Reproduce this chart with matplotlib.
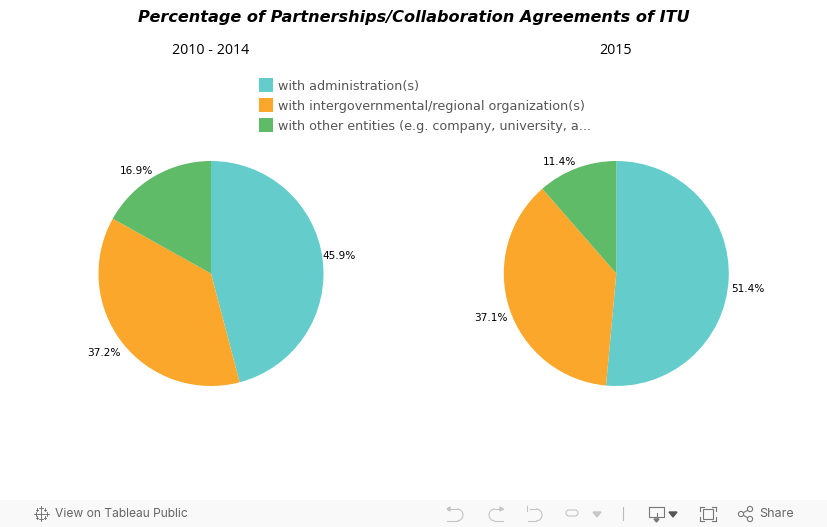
import numpy as np
import matplotlib
matplotlib.use("Agg")
import matplotlib.pyplot as plt
from matplotlib.patches import Rectangle, Arc, Circle, Polygon, FancyBboxPatch

# ------------ Data ------------
title = "Percentage of Partnerships/Collaboration Agreements of ITU"
panels = ["2010 - 2014", "2015"]
categories = ["with administration(s)",
              "with intergovernmental/regional organization(s)",
              "with other entities (e.g. company, university, a..."]
values_2010 = [45.9, 37.2, 16.9]
values_2015 = [51.4, 37.1, 11.4]
colors = ["#64cdcc", "#faa72b", "#5fbb68"]

# label shift from the pie edge, in pixels
shift_2010 = [(17, 3), (-18, -11), (-18, 5)]
shift_2015 = [(19, -10), (-18, -10), (-17, 6)]

W, H = 827, 527
R = 112.5
fig = plt.figure(figsize=(W / 100, H / 100), dpi=100, facecolor="white")

# overlay in pixel coordinates for text and the toolbar
bg = fig.add_axes([0, 0, 1, 1])
bg.set_xlim(0, W)
bg.set_ylim(H, 0)
bg.axis("off")


def draw_pie(cx, cy, vals, shifts):
    ax = fig.add_axes([(cx - R) / W, 1 - (cy + R) / H, 2 * R / W, 2 * R / H])
    wedges, _ = ax.pie(vals, colors=colors, startangle=90, counterclock=False,
                       radius=1, wedgeprops=dict(edgecolor="none"))
    ax.set_xlim(-1, 1)
    ax.set_ylim(-1, 1)
    for w, v, s in zip(wedges, vals, shifts):
        a = np.deg2rad((w.theta1 + w.theta2) / 2)
        bg.text(cx + R * np.cos(a) + s[0], cy - R * np.sin(a) - s[1], "%.1f%%" % v,
                ha="center", va="center", fontsize=7.6, color="black",
                family="DejaVu Sans")


draw_pie(211, 273.5, values_2010, shift_2010)
draw_pie(616.3, 273.5, values_2015, shift_2015)

bg.text(414, 17.5, title, ha="center", va="center", fontsize=11.6,
        fontweight="bold", fontstyle="italic", family="DejaVu Sans", color="black")
bg.text(211, 50, panels[0], ha="center", va="center", fontsize=10.3,
        family="Open Sans", color="black")
bg.text(616, 50, panels[1], ha="center", va="center", fontsize=10.3,
        family="Open Sans", color="black")

# legend
for i, (c, name) in enumerate(zip(colors, categories)):
    y = 85 + 20 * i
    bg.add_patch(Rectangle((259, y - 7), 14, 14, facecolor=c, edgecolor="none"))
    bg.text(278, y + 1.5, name, ha="left", va="center", fontsize=9.2,
            family="DejaVu Sans", color="#555555")

# toolbar
bar = "#f9f9f9"
ic = "#c4c4c4"
dk = "#777777"
lw = 0.8
bg.add_patch(Rectangle((0, 500), W, 27, facecolor=bar, edgecolor="none"))
bg.text(55, 514, "View on Tableau Public", ha="left", va="center", fontsize=8.7,
        family="Inter", color="#666666")
bg.text(759, 514, "Share", ha="left", va="center", fontsize=9,
        family="Inter", color="#666666")

# tableau logo
for dx, dy, s in [(0, 0, 3), (-5.5, 0, 2), (5.5, 0, 2), (0, -5.5, 2), (0, 5.5, 2),
                  (-4, -4, 1.2), (4, -4, 1.2), (-4, 4, 1.2), (4, 4, 1.2)]:
    bg.plot([41 + dx - s, 41 + dx + s], [513.5 + dy, 513.5 + dy], color="#666666", lw=0.6)
    bg.plot([41 + dx, 41 + dx], [513.5 + dy - s, 513.5 + dy + s], color="#666666", lw=0.6)

# undo / redo
bg.add_patch(Arc((457, 515), 12, 12, theta1=-90, theta2=90, color=ic, lw=lw))
bg.plot([449, 457], [509, 509], color=ic, lw=lw)
bg.plot([447, 457], [521, 521], color=ic, lw=lw)
bg.add_patch(Polygon([[447, 509], [450, 507], [450, 511]], color=ic))
bg.add_patch(Arc((495, 515), 12, 12, theta1=90, theta2=270, color=ic, lw=lw))
bg.plot([495, 503], [509, 509], color=ic, lw=lw)
bg.plot([495, 503], [521, 521], color=ic, lw=lw)
bg.add_patch(Polygon([[503, 509], [500, 507], [500, 511]], color=ic))
# revert
bg.add_patch(Arc((536, 515), 12, 12, theta1=-90, theta2=90, color=ic, lw=lw))
bg.plot([530, 536], [509, 509], color=ic, lw=lw)
bg.plot([528, 536], [521, 521], color=ic, lw=lw)
bg.plot([527, 527], [506, 511], color=ic, lw=lw)
# refresh
bg.add_patch(FancyBboxPatch((566, 510), 12, 6, boxstyle="round,pad=0,rounding_size=3",
                            facecolor="none", edgecolor=ic, lw=lw))
bg.add_patch(Polygon([[597, 517], [593, 512], [601, 512]], color="#c8c8c8"))
# divider
bg.plot([622.5, 622.5], [507, 520], color="#bbbbbb", lw=lw)
# device
bg.plot([649, 664, 664, 649, 649], [507, 507, 517, 517, 507], color=dk, lw=lw)
bg.plot([656.5, 656.5], [513, 520], color=dk, lw=lw)
bg.add_patch(Polygon([[654, 519], [659, 519], [656.5, 522]], color=dk))
bg.add_patch(Polygon([[669, 512], [677, 512], [673, 517]], color="#555555"))
# fullscreen
bg.add_patch(Rectangle((703, 509), 10, 10, facecolor="none", edgecolor=dk, lw=lw))
for x0, x1, y0 in [(700, 704, 507), (712, 716, 507), (700, 704, 521), (712, 716, 521)]:
    bg.plot([x0, x1], [y0, y0], color=dk, lw=lw)
bg.plot([700, 700], [507, 511], color=dk, lw=lw)
bg.plot([716, 716], [507, 511], color=dk, lw=lw)
bg.plot([700, 700], [517, 521], color=dk, lw=lw)
bg.plot([716, 716], [517, 521], color=dk, lw=lw)
# share icon
for x, y in [(741, 514), (750, 509), (750, 519)]:
    bg.add_patch(Circle((x, y), 2.6, facecolor=bar, edgecolor=dk, lw=lw, zorder=3))
bg.plot([750, 741, 750], [509, 514, 519], color=dk, lw=lw)

fig.savefig("out.png", dpi=100)
